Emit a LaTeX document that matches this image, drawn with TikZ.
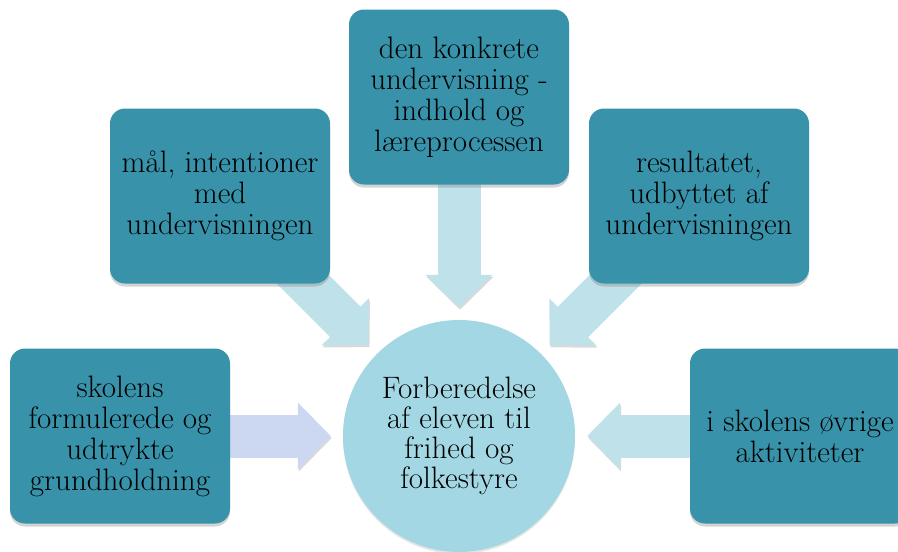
\documentclass[tikz,border=0pt]{standalone}
\usetikzlibrary{arrows.meta,shadows,backgrounds}
\definecolor{boksblaa}{HTML}{3893AA}
\definecolor{pilblaa}{HTML}{BFE2EA}
\definecolor{cirkelblaa}{HTML}{A3D7E3}
\definecolor{pillilla}{HTML}{CCD8F1}
\tikzstyle{boks}=[fill=boksblaa, rounded corners=15pt, minimum width=220pt,
    minimum height=175pt, inner sep=2pt, align=center,
    font=\fontsize{31}{31}\selectfont,
    drop shadow={shadow xshift=0pt, shadow yshift=-3pt, opacity=.35}]
\tikzstyle{maalet}=[circle, fill=cirkelblaa, minimum size=232pt, inner sep=0pt,
    align=center, font=\fontsize{31}{30}\selectfont,
    drop shadow={shadow xshift=0pt, shadow yshift=-2pt, opacity=.2}]
\tikzstyle{pil}=[line width=43pt, shorten <=-30pt, shorten >=12pt,
    -{Triangle[length=33pt,width=65pt]},
    preaction={draw=black!15, transform canvas={shift={(1pt,-2pt)}}}]

\begin{document}
\begin{tikzpicture}[x=1pt, y=-1pt]
  \useasboundingbox (0,0) rectangle (898,552);
  \clip (0,0) rectangle (898,552);

  \node[maalet] (maal) at (459,436) {Forberedelse\\af eleven til\\frihed og\\folkestyre};

  \node[boks] (konkret)  at (459,97)  {den konkrete\\undervisning -\\indhold og\\læreprocessen};
  \node[boks] (intention) at (220,196) {mål, intentioner\\med\\undervisningen};
  \node[boks] (resultat) at (699,196) {resultatet,\\udbyttet af\\undervisningen};
  \node[boks] (skolen)   at (120,436) {skolens\\formulerede og\\udtrykte\\grundholdning};
  \node[boks] (oevrige)  at (800,436) {i skolens øvrige\\aktiviteter};

  \begin{scope}[on background layer]
    \foreach \fra in {konkret, intention, resultat, oevrige}
        \draw[pil, pilblaa] (\fra) -- (maal);
    \draw[pil, pillilla] (skolen) -- (maal);
  \end{scope}

\end{tikzpicture}
\end{document}
